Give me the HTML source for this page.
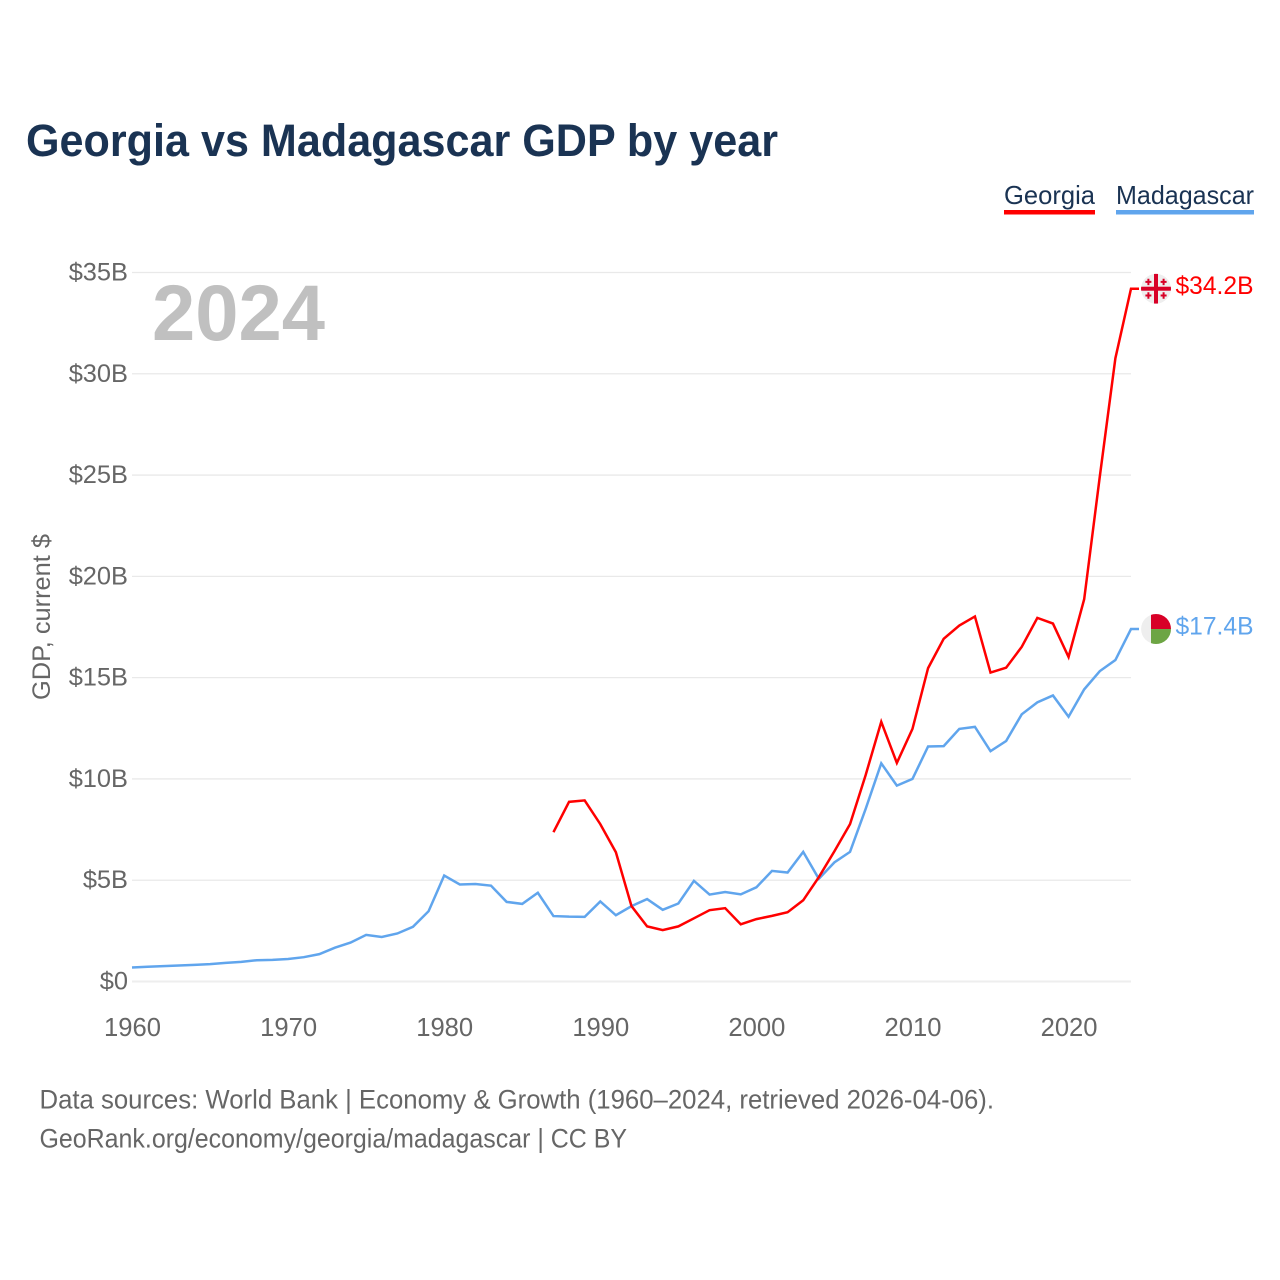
<!DOCTYPE html>
<html lang="en">
<head>
<meta charset="utf-8">
<title>Georgia vs Madagascar GDP by year</title>
<style>
html,body{margin:0;padding:0;background:#fff;width:1280px;height:1280px;overflow:hidden}
svg{display:block}
text{font-family:"Liberation Sans",sans-serif}
</style>
</head>
<body>
<svg id="chart" width="1280" height="1280" viewBox="0 0 1280 1280" xmlns="http://www.w3.org/2000/svg">
  <rect width="1280" height="1280" fill="#fff"/>
  <text x="26" y="156" font-size="45" font-weight="700" fill="#1a3353" textLength="752" lengthAdjust="spacingAndGlyphs">Georgia vs Madagascar GDP by year</text>

  <g>
    <text x="1004" y="204" font-size="26" fill="#1a3353" textLength="91" lengthAdjust="spacingAndGlyphs">Georgia</text>
    <rect x="1004" y="210" width="91" height="4.5" fill="#ff0000"/>
  </g>
  <g>
    <text x="1116" y="204" font-size="26" fill="#1a3353" textLength="138" lengthAdjust="spacingAndGlyphs">Madagascar</text>
    <rect x="1116" y="210" width="138" height="4.5" fill="#60a5ed"/>
  </g>

  <g id="grid"></g>
  <g id="yLabels"></g>
  <g id="xLabels"></g>

  <text x="152" y="340" font-size="79" font-weight="700" fill="#c0c0c0" textLength="173" lengthAdjust="spacingAndGlyphs">2024</text>

  <text transform="translate(50,700) rotate(-90)" x="0" y="0" font-size="25" fill="#666666" textLength="166" lengthAdjust="spacingAndGlyphs">GDP, current $</text>

  <g id="series"></g>

  <defs>
    <clipPath id="flag-clip"><circle cx="0" cy="0" r="15"/></clipPath>
  </defs>
  <g id="flagGeorgia">
    <g clip-path="url(#flag-clip)">
      <circle r="15" fill="#eeeeee"/>
      <rect x="-15" y="-2" width="30" height="4" fill="#d80027"/>
      <rect x="-2" y="-15" width="4" height="30" fill="#d80027"/>
      <path fill="#d80027" d="M-8.6-10h2v2.2h2v2h-2V-3.6h-2v-2.2h-2v-2h2zM6.6-10h2v2.2h2v2h-2V-3.6h-2v-2.2h-2v-2h2zM-8.6 3.6h2v2.2h2v2h-2V10h-2V7.8h-2v-2h2zM6.6 3.6h2v2.2h2v2h-2V10h-2V7.8h-2v-2h2z"/>
    </g>
  </g>
  <g id="flagMadagascar">
    <g clip-path="url(#flag-clip)">
      <circle r="15" fill="#eeeeee"/>
      <rect x="-5" y="-15" width="20" height="15" fill="#d80027"/>
      <rect x="-5" y="0" width="20" height="15" fill="#6da544"/>
    </g>
  </g>
  <g id="endLabels"></g>

  <text x="39.5" y="1108.5" font-size="27" fill="#666666" textLength="954.5" lengthAdjust="spacingAndGlyphs">Data sources: World Bank | Economy &amp; Growth (1960–2024, retrieved 2026-04-06).</text>
  <text x="39.5" y="1147.5" font-size="27" fill="#666666" textLength="587.5" lengthAdjust="spacingAndGlyphs">GeoRank.org/economy/georgia/madagascar | CC BY</text>
</svg>
<script>
const startYear = 1960;
const endYear = 2024;
const georgiaStartYear = 1987;
const xTickYears = [1960, 1970, 1980, 1990, 2000, 2010, 2020];
const yTickValues = [0, 5, 10, 15, 20, 25, 30, 35];
const madagascarValues = [
  0.69, 0.73, 0.76, 0.79, 0.82, 0.86, 0.92, 0.97, 1.05, 1.07,
  1.11, 1.20, 1.35, 1.67, 1.92, 2.30, 2.20, 2.37, 2.70, 3.47,
  5.23, 4.79, 4.81, 4.73, 3.93, 3.83, 4.38, 3.23, 3.20, 3.19,
  3.95, 3.27, 3.72, 4.07, 3.54, 3.85, 4.97, 4.29, 4.42, 4.30,
  4.65, 5.46, 5.38, 6.40, 5.07, 5.88, 6.40, 8.52, 10.77, 9.67,
  10.00, 11.60, 11.62, 12.47, 12.57, 11.37, 11.87, 13.19, 13.78, 14.12,
  13.07, 14.42, 15.32, 15.87, 17.40
];
const georgiaValues = [
  7.37, 8.87, 8.94, 7.77, 6.38, 3.72, 2.72, 2.54, 2.72, 3.12,
  3.52, 3.62, 2.82, 3.08, 3.24, 3.42, 4.01, 5.15, 6.43, 7.77,
  10.19, 12.82, 10.79, 12.47, 15.47, 16.92, 17.57, 18.02, 15.25, 15.49,
  16.52, 17.95, 17.67, 16.02, 18.87, 24.92, 30.77, 34.20
];

const NS = 'http://www.w3.org/2000/svg';
function xScale(year) { return 132 + (year - startYear) * (1131 - 132) / (endYear - startYear); }
function yScale(value) { return 981.5 - value * (981.5 - 272.5) / 35; }

const grid = document.getElementById('grid');
const yLabels = document.getElementById('yLabels');
const xLabels = document.getElementById('xLabels');
const seriesGroup = document.getElementById('series');
const endLabels = document.getElementById('endLabels');

yTickValues.forEach(function (v) {
  const line = document.createElementNS(NS, 'line');
  
  
  line.setAttribute('x1', xScale(startYear));
  line.setAttribute('x2', xScale(endYear));
  line.setAttribute('y1', yScale(v));
  line.setAttribute('y2', yScale(v));
  line.setAttribute('stroke', v === 0 ? '#eeeeee' : '#e9e9e9');
  line.setAttribute('stroke-width', v === 0 ? '2' : '1.3');
  grid.appendChild(line);

  const label = document.createElementNS(NS, 'text');
  
  
  label.setAttribute('x', 128);
  label.setAttribute('y', yScale(v) + 8);
  label.setAttribute('text-anchor', 'end');
  label.setAttribute('font-size', '25.4');
  label.setAttribute('fill', '#666666');
  label.textContent = v === 0 ? '$0' : '$' + v + 'B';
  yLabels.appendChild(label);
});

xTickYears.forEach(function (yr) {
  const label = document.createElementNS(NS, 'text');
  
  
  label.setAttribute('x', xScale(yr) + 0.5);
  label.setAttribute('y', 1036);
  label.setAttribute('text-anchor', 'middle');
  label.setAttribute('font-size', '25.6');
  label.setAttribute('fill', '#666666');
  label.textContent = yr;
  xLabels.appendChild(label);
});

function drawSeries(values, firstYear, color) {
  const last = values[values.length - 1];
  const pts = values.map(function (v, i) {
    return xScale(firstYear + i).toFixed(2) + ',' + yScale(v).toFixed(2);
  });
  pts.push((xScale(endYear) + 8).toFixed(2) + ',' + yScale(last).toFixed(2));
  return { points: pts.join(' '), last: last, color: color };
}

const madagascarLine = drawSeries(madagascarValues, startYear, '#60a5ed');
const georgiaLine = drawSeries(georgiaValues, georgiaStartYear, '#ff0000');

const pathMadagascar = document.createElementNS(NS, 'polyline');


pathMadagascar.setAttribute('points', madagascarLine.points);
pathMadagascar.setAttribute('fill', 'none');
pathMadagascar.setAttribute('stroke', madagascarLine.color);
pathMadagascar.setAttribute('stroke-width', '2.5');
seriesGroup.appendChild(pathMadagascar);

const pathGeorgia = document.createElementNS(NS, 'polyline');


pathGeorgia.setAttribute('points', georgiaLine.points);
pathGeorgia.setAttribute('fill', 'none');
pathGeorgia.setAttribute('stroke', georgiaLine.color);
pathGeorgia.setAttribute('stroke-width', '2.5');
seriesGroup.appendChild(pathGeorgia);

document.getElementById('flagGeorgia').setAttribute('transform', 'translate(1156,' + yScale(georgiaLine.last) + ')');
document.getElementById('flagMadagascar').setAttribute('transform', 'translate(1156,' + yScale(madagascarLine.last) + ')');

const georgiaEnd = document.createElementNS(NS, 'text');


georgiaEnd.setAttribute('x', 1175.5);
georgiaEnd.setAttribute('y', yScale(georgiaLine.last) + 5.5);
georgiaEnd.setAttribute('font-size', '25');
georgiaEnd.setAttribute('fill', georgiaLine.color);
georgiaEnd.setAttribute('textLength', '78');
georgiaEnd.setAttribute('lengthAdjust', 'spacingAndGlyphs');
georgiaEnd.textContent = '$' + georgiaLine.last.toFixed(1) + 'B';
endLabels.appendChild(georgiaEnd);

const madagascarEnd = document.createElementNS(NS, 'text');


madagascarEnd.setAttribute('x', 1175.5);
madagascarEnd.setAttribute('y', yScale(madagascarLine.last) + 5.5);
madagascarEnd.setAttribute('font-size', '25');
madagascarEnd.setAttribute('fill', madagascarLine.color);
madagascarEnd.setAttribute('textLength', '78');
madagascarEnd.setAttribute('lengthAdjust', 'spacingAndGlyphs');
madagascarEnd.textContent = '$' + madagascarLine.last.toFixed(1) + 'B';
endLabels.appendChild(madagascarEnd);
</script>
</body>
</html>
